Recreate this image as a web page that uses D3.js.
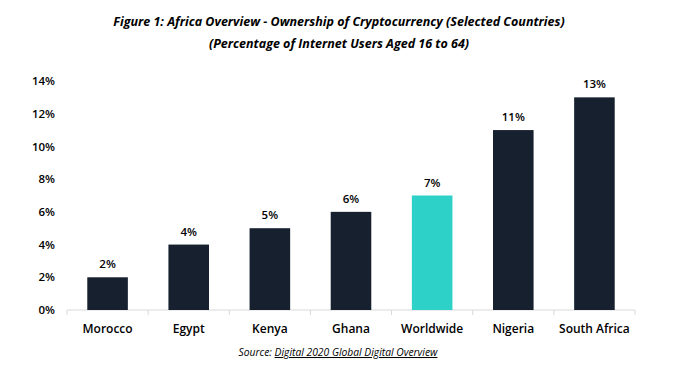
<!DOCTYPE html>
<html>
<head>
<meta charset="utf-8">
<script src="https://cdn.jsdelivr.net/npm/d3@7"></script>
<style>
  body { margin: 0; background: #fff; }
  text { font-family: "Open Sans", "Noto Sans", sans-serif; fill: #000; }
</style>
</head>
<body>
<div id="chart"></div>
<script>
// chart data
var countries = ["Morocco", "Egypt", "Kenya", "Ghana", "Worldwide", "Nigeria", "South Africa"];
var ownership = [2, 4, 5, 6, 7, 11, 13];
var yTicks = [0, 2, 4, 6, 8, 10, 12, 14];

var svgWidth = 677;
var svgHeight = 375;

var margin = { top: 81, right: 42, bottom: 65, left: 67 };
var width = svgWidth - margin.left - margin.right;
var height = svgHeight - margin.top - margin.bottom;

var svg = d3.select("#chart")
  .append("svg")
  .attr("width", svgWidth)
  .attr("height", svgHeight);

// title
svg.append("text")
  .attr("x", 339).attr("y", 26)
  .attr("text-anchor", "middle")
  .attr("font-size", 12.5)
  .attr("font-weight", "bold")
  .attr("font-style", "italic")
  .text("Figure 1: Africa Overview - Ownership of Cryptocurrency (Selected Countries)");

svg.append("text")
  .attr("x", 339).attr("y", 48)
  .attr("text-anchor", "middle")
  .attr("font-size", 12.5)
  .attr("font-weight", "bold")
  .attr("font-style", "italic")
  .text("(Percentage of Internet Users Aged 16 to 64)");

var chartGroup = svg.append("g")
  .attr("transform", `translate(${margin.left}, ${margin.top})`);

var xScale = d3.scaleBand()
  .domain(countries)
  .range([0, width])
  .paddingInner(0.5)
  .paddingOuter(0.25);

var yScale = d3.scaleLinear()
  .domain([0, 14])
  .range([height, 0]);

// y axis (labels only)
var leftAxis = d3.axisLeft(yScale)
  .tickValues(yTicks)
  .tickFormat(d => d + "%")
  .tickSize(0)
  .tickPadding(12);

var yAxis = chartGroup.append("g").call(leftAxis);
yAxis.select(".domain").remove();
yAxis.selectAll("text")
  .attr("font-size", 11.5)
  .attr("font-weight", 600)
  .style("font-family", "'Open Sans', sans-serif")
  .attr("fill", "#000");

// x axis baseline with tick marks between categories
var xAxisG = chartGroup.append("g")
  .attr("transform", `translate(0, ${height})`);

xAxisG.append("line")
  .attr("x1", 0).attr("x2", width)
  .attr("stroke", "#d9d9d9");

var step = xScale.step();
var edges = d3.range(countries.length + 1).map(i => i * step * (width / (step * countries.length)));
xAxisG.selectAll(".sep")
  .data(edges)
  .enter().append("line")
  .attr("class", "sep")
  .attr("x1", d => d).attr("x2", d => d)
  .attr("y1", 0).attr("y2", 5)
  .attr("stroke", "#d9d9d9");

xAxisG.selectAll(".cat")
  .data(countries)
  .enter().append("text")
  .attr("class", "cat")
  .attr("x", d => xScale(d) + xScale.bandwidth() / 2)
  .attr("y", 23)
  .attr("text-anchor", "middle")
  .attr("font-size", 12)
  .attr("font-weight", 600)
  .text(d => d);

// bars
chartGroup.selectAll(".bar")
  .data(countries)
  .enter().append("rect")
  .attr("class", "bar")
  .attr("x", d => xScale(d))
  .attr("y", (d, i) => yScale(ownership[i]))
  .attr("width", xScale.bandwidth())
  .attr("height", (d, i) => height - yScale(ownership[i]))
  .attr("fill", d => d === "Worldwide" ? "#2ed1c7" : "#16202f");

// data labels
chartGroup.selectAll(".lbl")
  .data(countries)
  .enter().append("text")
  .attr("class", "lbl")
  .attr("x", d => xScale(d) + xScale.bandwidth() / 2)
  .attr("y", (d, i) => yScale(ownership[i]) - 9)
  .attr("text-anchor", "middle")
  .attr("font-size", 11.5)
  .attr("font-weight", 600)
  .text((d, i) => ownership[i] + "%");

// source
var src = svg.append("text")
  .attr("x", 338).attr("y", 356)
  .attr("text-anchor", "middle")
  .attr("font-size", 10.3)
  .attr("font-style", "italic");
src.append("tspan").text("Source: ");
src.append("tspan").attr("text-decoration", "underline").text("Digital 2020 Global Digital Overview");
</script>
</body>
</html>
